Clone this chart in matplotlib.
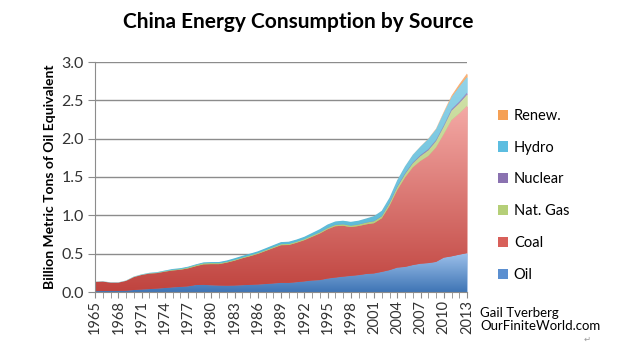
import numpy as np
import matplotlib
matplotlib.use("Agg")
import matplotlib.pyplot as plt
from matplotlib.colors import LinearSegmentedColormap
from matplotlib.patches import Patch

years = list(range(1965, 2014))

# Billion metric tons of oil equivalent
oil = [0.011, 0.013, 0.013, 0.014, 0.017, 0.026, 0.033, 0.038, 0.045, 0.052,
       0.061, 0.066, 0.074, 0.091, 0.093, 0.088, 0.085, 0.083, 0.085, 0.089,
       0.093, 0.098, 0.104, 0.112, 0.119, 0.119, 0.128, 0.138, 0.150, 0.155,
       0.175, 0.188, 0.200, 0.210, 0.220, 0.235, 0.242, 0.262, 0.285, 0.318,
       0.327, 0.351, 0.369, 0.377, 0.392, 0.448, 0.465, 0.487, 0.507]
coal = [0.121, 0.123, 0.109, 0.108, 0.128, 0.168, 0.189, 0.202, 0.202, 0.213,
        0.220, 0.224, 0.234, 0.245, 0.268, 0.276, 0.279, 0.300, 0.324, 0.351,
        0.374, 0.399, 0.431, 0.461, 0.492, 0.494, 0.514, 0.538, 0.570, 0.608,
        0.643, 0.670, 0.665, 0.637, 0.641, 0.648, 0.656, 0.700, 0.840, 1.014,
        1.168, 1.276, 1.342, 1.398, 1.495, 1.612, 1.778, 1.842, 1.923]
gas = [0.001, 0.001, 0.001, 0.001, 0.002, 0.003, 0.003, 0.004, 0.005, 0.007,
       0.008, 0.009, 0.011, 0.013, 0.013, 0.013, 0.012, 0.011, 0.011, 0.011,
       0.012, 0.012, 0.012, 0.013, 0.013, 0.014, 0.014, 0.014, 0.015, 0.015,
       0.016, 0.017, 0.018, 0.018, 0.019, 0.022, 0.025, 0.026, 0.031, 0.036,
       0.042, 0.051, 0.063, 0.073, 0.081, 0.098, 0.122, 0.133, 0.146]
nuclear = [0.0] * 28 + [0.0004, 0.003, 0.003, 0.003, 0.003, 0.003, 0.003, 0.004,
                        0.004, 0.006, 0.010, 0.011, 0.012, 0.012, 0.014, 0.016,
                        0.016, 0.017, 0.020, 0.022, 0.025]
hydro = [0.002, 0.003, 0.003, 0.003, 0.003, 0.004, 0.005, 0.006, 0.007, 0.008,
         0.011, 0.011, 0.011, 0.011, 0.012, 0.013, 0.015, 0.017, 0.020, 0.020,
         0.021, 0.021, 0.023, 0.025, 0.027, 0.029, 0.028, 0.030, 0.034, 0.038,
         0.043, 0.042, 0.044, 0.047, 0.047, 0.050, 0.063, 0.065, 0.064, 0.080,
         0.090, 0.099, 0.110, 0.132, 0.139, 0.163, 0.157, 0.195, 0.206]
renew = [0.0] * 35 + [0.0006, 0.0006, 0.0007, 0.0007, 0.0008, 0.0009, 0.0014,
                      0.0023, 0.0043, 0.0074, 0.0121, 0.0187, 0.0319, 0.0429]

series = [("Oil", oil), ("Coal", coal), ("Nat. Gas", gas),
          ("Nuclear", nuclear), ("Hydro", hydro), ("Renew.", renew)]
colors = {
    "Oil": ("#3f75b5", "#9cc0ea"),
    "Coal": ("#c0443f", "#f4aaa6"),
    "Nat. Gas": ("#a9c66a", "#cfe0a6"),
    "Nuclear": ("#8064a2", "#a48ec0"),
    "Hydro": ("#4bb3d3", "#93d3e8"),
    "Renew.": ("#f79646", "#f9b27a"),
}
legend_color = {"Oil": "#5b8fd0", "Coal": "#d8605a", "Nat. Gas": "#b5cf78",
                "Nuclear": "#8a72b0", "Hydro": "#5cbde0", "Renew.": "#f5a055"}

plt.rcParams['font.family'] = ['Lato', 'DejaVu Sans']

fig = plt.figure(figsize=(6.34, 3.48), dpi=100)
ax = fig.add_axes([95/634, 1-292/348, (467-95)/634, (292-62)/348])

x = np.array(years, dtype=float)
base = np.zeros(len(years))
handles = []
for name, vals in series:
    top = base + np.array(vals)
    poly = ax.fill_between(x, base, top, color=legend_color[name], lw=0,
                           zorder=2)
    dark, light = colors[name]
    cmap = LinearSegmentedColormap.from_list(name, [dark, light])
    y0, y1 = base.min(), max(top.max(), base.min() + 1e-3)
    grad = np.linspace(0, 1, 256).reshape(-1, 1)
    im = ax.imshow(grad, cmap=cmap, aspect='auto', origin='lower',
                   extent=[x[0], x[-1], y0, y1], zorder=2.5,
                   interpolation='bilinear')
    im.set_clip_path(poly.get_paths()[0], transform=ax.transData)
    handles.append((name, legend_color[name]))
    base = top

ax.set_xlim(1965, 2013)
ax.set_ylim(0, 3.0)
ax.set_yticks(np.arange(0, 3.01, 0.5))
ax.set_yticklabels([f"{v:.1f}" for v in np.arange(0, 3.01, 0.5)])
for v in np.arange(0.5, 3.01, 0.5):
    ax.axhline(v, color="#8c8c8c", lw=1.0, zorder=1)

ax.set_xticks(years, minor=True)
ax.set_xticks(years[::3])
ax.set_xticklabels([str(y) for y in years[::3]], rotation=90)
ax.tick_params(axis='x', which='both', direction='out', length=4,
               color="#8c8c8c", labelsize=10.5, pad=2)
ax.tick_params(axis='y', direction='out', length=5, color="#8c8c8c",
               labelsize=11.5, pad=3, labelcolor="#333333")
ax.tick_params(axis='x', labelcolor="#333333")

for s in ["top", "right"]:
    ax.spines[s].set_visible(False)
ax.spines["left"].set_color("#8c8c8c")
ax.spines["bottom"].set_color("#8c8c8c")
ax.set_facecolor("white")

ax.set_ylabel("Billion Metric Tons of Oil Equivalent", fontsize=10,
              fontweight='bold', labelpad=4)

fig.text(298/634, 1-22/348, "China Energy Consumption by Source",
         ha='center', va='center', fontsize=15, fontweight='bold')

# legend (top to bottom: Renew. ... Oil)
legend_items = list(reversed(handles))
leg_handles = [Patch(facecolor=c, edgecolor='none') for _, c in legend_items]
leg_labels = [n for n, _ in legend_items]
fig.legend(leg_handles, leg_labels, loc='upper left',
           bbox_to_anchor=(492/634, 1-103/348), frameon=False,
           fontsize=10.5, handlelength=0.7, handleheight=0.7,
           handletextpad=0.4, labelspacing=1.22, borderaxespad=0)

fig.text(480/634, 1-313/348, "Gail Tverberg", fontsize=9.5,
         ha='left', va='center')
fig.text(480/634, 1-326/348, "OurFiniteWorld.com", fontsize=9.5,
         ha='left', va='center')
fig.text(587/634, 1-339/348, "\u21b5", fontsize=6, color="#999999",
         ha='center', va='center', family=['DejaVu Sans'])

fig.savefig("out.png", dpi=100, facecolor="white")
